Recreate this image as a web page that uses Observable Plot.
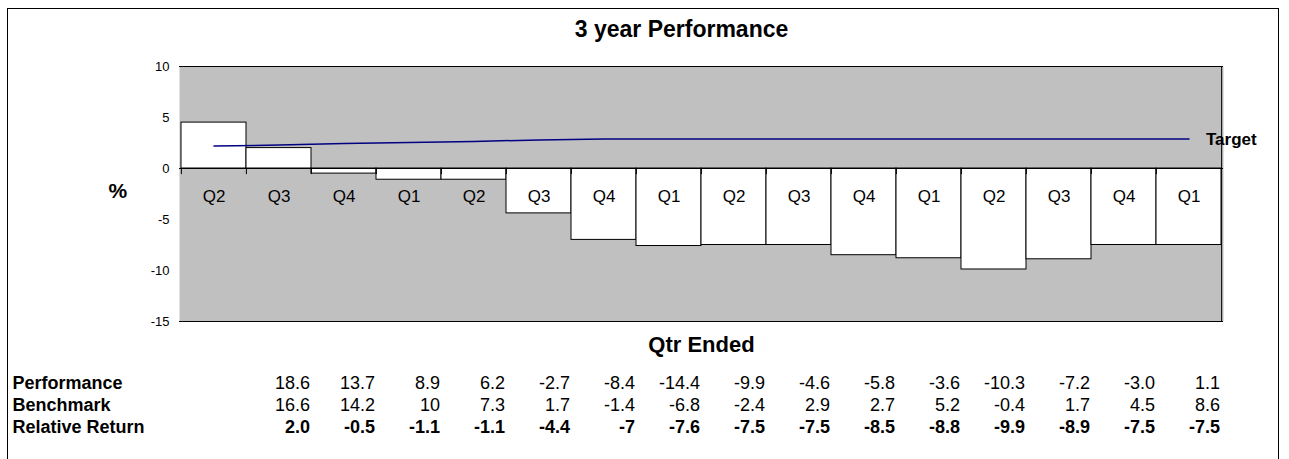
<!DOCTYPE html>
<html><head><meta charset="utf-8">
<script src="https://cdn.jsdelivr.net/npm/d3@7"></script>
<script src="https://cdn.jsdelivr.net/npm/@observablehq/plot@0.6"></script>
<style>
body{margin:0;background:#fff;font-family:"Liberation Sans",Arial,sans-serif}
#wrap{position:relative;width:1289px;height:459px;overflow:hidden}
#border{position:absolute;left:7px;top:8px;width:1270px;height:480px;border:1px solid #000;pointer-events:none}
</style>
</head><body>
<div id="wrap"><div id="chart"></div><div id="border"></div></div>
<script>
const quarters = ["Q2","Q3","Q4","Q1","Q2","Q3","Q4","Q1","Q2","Q3","Q4","Q1","Q2","Q3","Q4","Q1"];
const relativeBars = [4.5, 2.0, -0.5, -1.1, -1.1, -4.4, -7, -7.6, -7.5, -7.5, -8.5, -8.8, -9.9, -8.9, -7.5, -7.5];
const target = [2.2, 2.3, 2.45, 2.55, 2.65, 2.8, 2.9, 2.9, 2.9, 2.9, 2.9, 2.9, 2.9, 2.9, 2.9, 2.9];
const yTicks = [-15, -10, -5, 0, 5, 10];
const rowLabels = ["Performance", "Benchmark", "Relative Return"];
const performance = ["18.6","13.7","8.9","6.2","-2.7","-8.4","-14.4","-9.9","-4.6","-5.8","-3.6","-10.3","-7.2","-3.0","1.1"];
const benchmark = ["16.6","14.2","10","7.3","1.7","-1.4","-6.8","-2.4","2.9","2.7","5.2","-0.4","1.7","4.5","8.6"];
const relative = ["2.0","-0.5","-1.1","-1.1","-4.4","-7","-7.6","-7.5","-7.5","-8.5","-8.8","-9.9","-8.9","-7.5","-7.5"];

const W = 1289, H = 459;
const mL = 179, mR = 66, mT = 66, mB = 138;
const bw = (W - mL - mR) / quarters.length;

const data = quarters.map((q, i) => ({i, q, value: relativeBars[i], target: target[i]}));
const tableRow = (arr, r) => arr.map((v, k) => ({i: k + 1, v, r}));
const table = [...tableRow(performance, 0), ...tableRow(benchmark, 1), ...tableRow(relative, 2)];
const rowDy = [61.5, 83.5, 106];

const chart = Plot.plot({
  width: W, height: H,
  marginLeft: mL, marginRight: mR, marginTop: mT, marginBottom: mB,
  style: {fontFamily: "Liberation Sans, Arial, sans-serif", color: "black", background: "white", overflow: "visible"},
  x: {type: "band", domain: d3.range(quarters.length), padding: 0, axis: null},
  y: {domain: [-15, 10], axis: null},
  marks: [
    Plot.frame({fill: "#c0c0c0", stroke: null}),
    Plot.barY(data, {x: "i", y: "value", fill: "white", stroke: "black", strokeWidth: 1}),
    Plot.ruleY([0], {stroke: "black", strokeWidth: 1}),
    Plot.ruleX(d3.range(quarters.length), {x: d => d, y1: 0, y2: -0.6, dx: -bw / 2, stroke: "black"}),
    Plot.text(data, {x: "i", y: 0, text: "q", dy: 28, fontSize: 17}),
    Plot.lineY(data, {x: "i", y: "target", stroke: "#000080", strokeWidth: 1.5}),
    Plot.text(data.slice(-1), {x: "i", y: "target", text: () => "Target", dx: 17, dy: 1, textAnchor: "start", fontWeight: "bold", fontSize: 17}),
    Plot.ruleY([10, -15], {stroke: "black", strokeWidth: 1}),
    Plot.ruleX([quarters.length - 1], {dx: bw / 2, stroke: "black", strokeWidth: 1}),
    Plot.axisY({ticks: yTicks, tickSize: 0, tickPadding: 10, fontSize: 13, tickFormat: d => String(d)}),
    Plot.text(["3 year Performance"], {frameAnchor: "top", lineAnchor: "middle", text: d => d, dx: -20, dy: -37, fontSize: 23, fontWeight: "bold"}),
    Plot.text(["%"], {frameAnchor: "left", lineAnchor: "middle", text: d => d, dx: -71, dy: -3, fontSize: 21, fontWeight: "bold"}),
    Plot.text(["Qtr Ended"], {frameAnchor: "bottom", lineAnchor: "middle", text: d => d, dy: 23, fontSize: 22, fontWeight: "bold"}),
    ...rowLabels.map((lab, r) => Plot.text([lab], {frameAnchor: "bottom-left", lineAnchor: "middle", text: d => d, dx: 12 - mL, dy: rowDy[r], textAnchor: "start", fontSize: 18, fontWeight: "bold"})),
    ...[0, 1, 2].map(r => Plot.text(table.filter(d => d.r === r), {x: "i", frameAnchor: "bottom", lineAnchor: "middle", text: "v", dx: 31, dy: rowDy[r], textAnchor: "end", fontSize: 18, fontWeight: r === 2 ? "bold" : "normal"}))
  ]
});
document.getElementById("chart").appendChild(chart);
</script>
</body></html>
